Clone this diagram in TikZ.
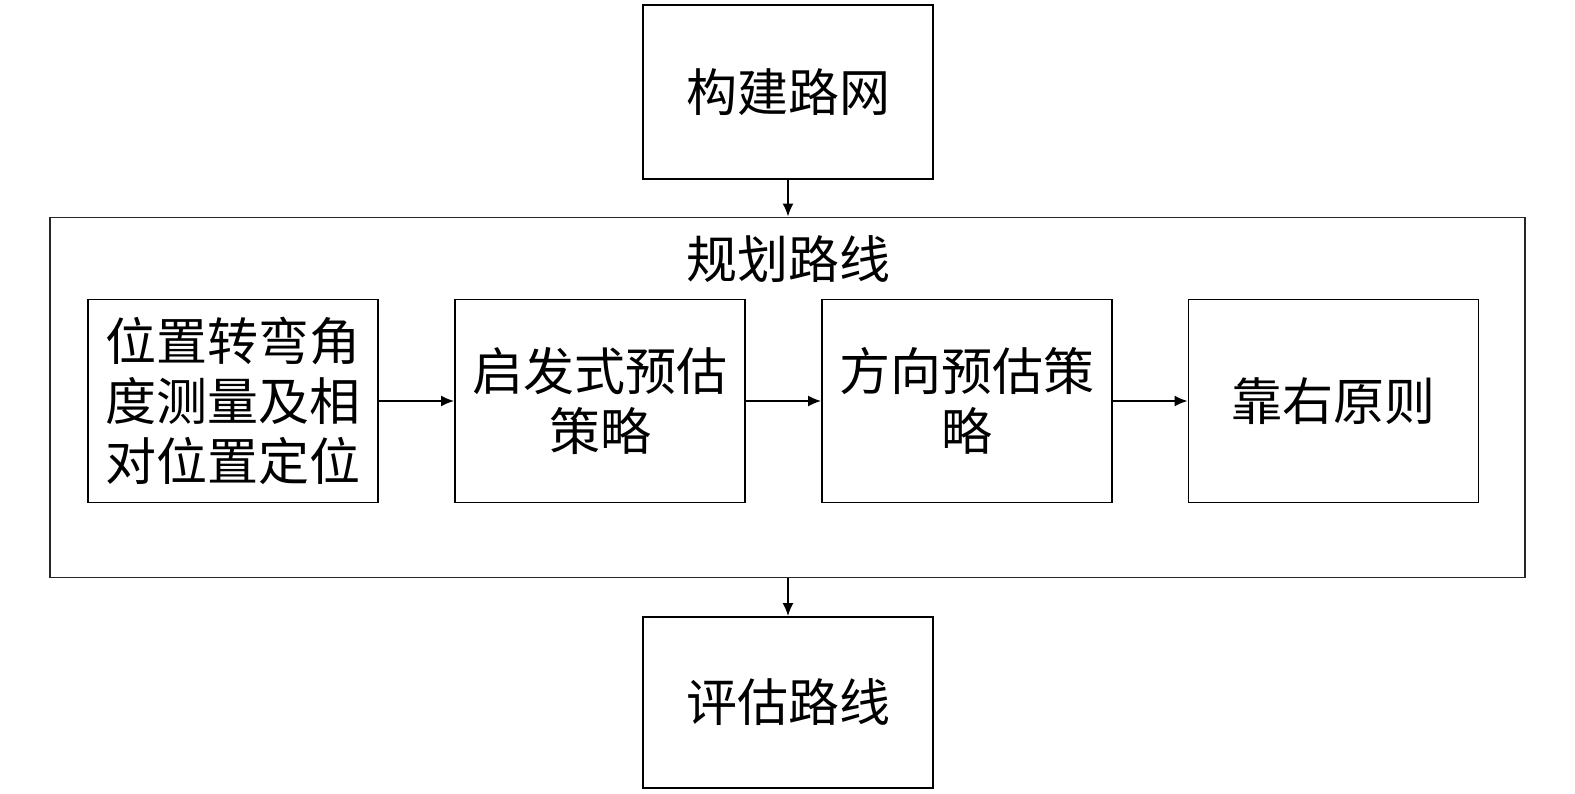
\documentclass[tikz,border=0pt]{standalone}
\usepackage{fontspec}
\newfontfamily\cjk{Noto Sans CJK SC}
\usetikzlibrary{arrows.meta}

\tikzset{
  boxnode/.style={draw=black,line width=0.9pt,minimum width=145pt,minimum height=101.5pt,
    align=center,inner sep=0pt,font=\cjk\fontsize{25.5}{30}\selectfont},
  arrowline/.style={line width=0.9pt,-{Latex[length=6.5pt,width=5.5pt]}}
}

\begin{document}
\begin{tikzpicture}[x=0.5pt,y=-0.5pt]
  \useasboundingbox (0,0) rectangle (1575,793);

  % outer frame for route planning
  \node[draw=black!85,line width=0.9pt,minimum width=737.5pt,minimum height=180pt,inner sep=0pt] (plan) at (787.5,397.5) {};
  \node[font=\cjk\fontsize{25.5}{30}\selectfont] (plantitle) at (788,259) {规划路线};

  \node[boxnode,minimum height=87pt] (build) at (788,92) {构建路网};
  \node[boxnode,minimum height=85.5pt] (eval) at (788,702.5) {评估路线};

  \node[boxnode] (locate) at (233,401) {位置转弯角\\度测量及相\\对位置定位};
  \node[boxnode] (heur) at (600,401) {启发式预估\\策略};
  \node[boxnode] (dir) at (967,401) {方向预估策\\略};
  \node[boxnode] (right) at (1333.5,401) {靠右原则};

  \draw[arrowline] (build.south) -- (build.south |- plan.north);
  \draw[arrowline] (eval.north |- plan.south) -- (eval.north);
  \draw[arrowline] (locate.east) -- (heur.west);
  \draw[arrowline] (heur.east) -- (dir.west);
  \draw[arrowline] (dir.east) -- (right.west);
\end{tikzpicture}
\end{document}
